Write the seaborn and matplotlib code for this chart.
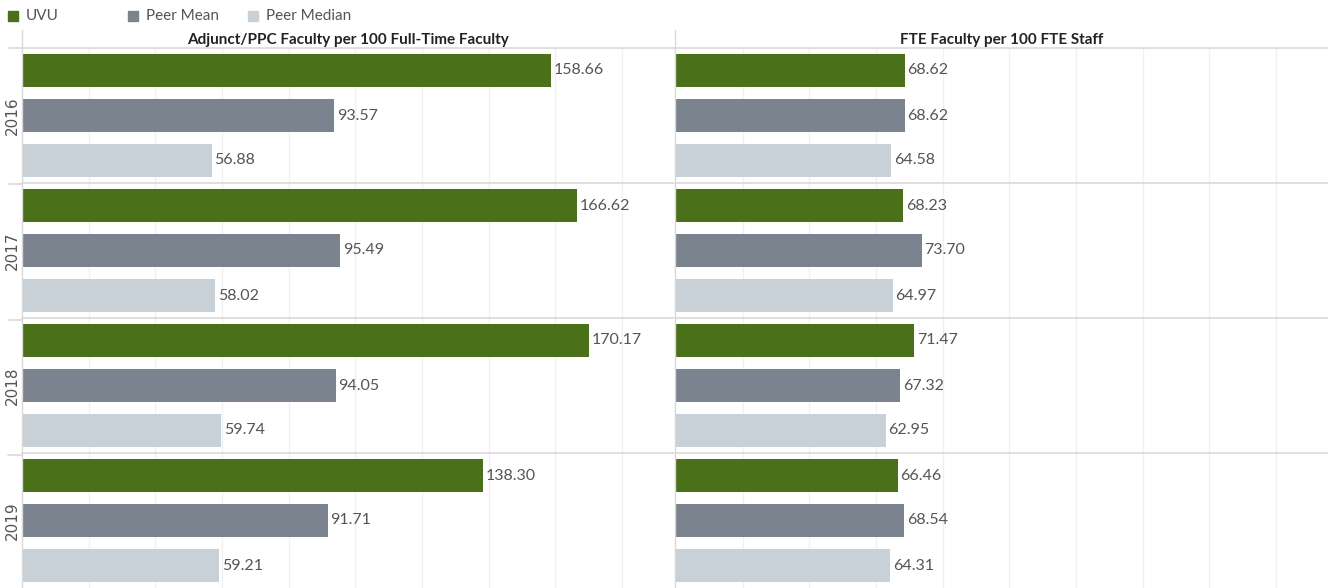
import seaborn as sns
import matplotlib.pyplot as plt
import pandas as pd
from matplotlib.patches import Rectangle
from matplotlib.lines import Line2D

# data
years = ["2016", "2017", "2018", "2019"]
series = ["UVU", "Peer Mean", "Peer Median"]
adjunct_uvu = [158.66, 166.62, 170.17, 138.30]
adjunct_mean = [93.57, 95.49, 94.05, 91.71]
adjunct_median = [56.88, 58.02, 59.74, 59.21]
fte_uvu = [68.62, 68.23, 71.47, 66.46]
fte_mean = [68.62, 73.70, 67.32, 68.54]
fte_median = [64.58, 64.97, 62.95, 64.31]
titles = ["Adjunct/PPC Faculty per 100 Full-Time Faculty", "FTE Faculty per 100 FTE Staff"]

colors = {"UVU": "#4a7119", "Peer Mean": "#7b838e", "Peer Median": "#c8d0d8"}


def make_df(uvu, mean, median):
    rows = []
    for i, y in enumerate(years):
        rows.append((y, "UVU", uvu[i]))
        rows.append((y, "Peer Mean", mean[i]))
        rows.append((y, "Peer Median", median[i]))
    return pd.DataFrame(rows, columns=["Year", "Series", "Value"])


frames = [make_df(adjunct_uvu, adjunct_mean, adjunct_median),
          make_df(fte_uvu, fte_mean, fte_median)]

sns.set_theme(style="white")
plt.rcParams["font.family"] = ["Lato", "DejaVu Sans"]

W, H = 1328, 588
fig = plt.figure(figsize=(W / 100, H / 100), dpi=100)

top_px, bot_px = 48, 588
lefts = [22, 676]
width_px = 652
grid_c = "#f0f0f0"
sep_c = "#d9d9d9"

for k, df in enumerate(frames):
    ax = fig.add_axes([lefts[k] / W, 1 - bot_px / H, width_px / W, (bot_px - top_px) / H])
    sns.barplot(data=df, y="Year", x="Value", hue="Series", hue_order=series,
                palette=colors, orient="h", width=1.0, gap=0.25, ax=ax,
                legend=False, saturation=1, edgecolor="none")
    ax.set_xlim(0, 195.6)
    ax.set_ylim(3.5, -0.5)
    ax.set_xticks(range(20, 200, 20))
    ax.xaxis.grid(True, color=grid_c, lw=1)
    ax.set_axisbelow(True)
    ax.tick_params(axis="x", bottom=False, labelbottom=False)
    ax.set_yticks([])
    ax.set_xlabel("")
    ax.set_ylabel("")
    for sp in ax.spines.values():
        sp.set_visible(False)
    if k == 0:
        for i, yr in enumerate(years):
            ax.text(-10 / width_px, i, yr, transform=ax.get_yaxis_transform(),
                    rotation=90, ha="center", va="center", fontsize=11,
                    color="#555555", family="DejaVu Sans")
    for c in ax.containers:
        ax.bar_label(c, fmt="%.2f", padding=2, fontsize=11.5, color="#555555")
    for yb in [0.5, 1.5, 2.5]:
        ax.axhline(yb, color=sep_c, lw=1.2, clip_on=False)
    cx = (lefts[k] + width_px / 2) / W
    fig.text(cx, 1 - 40 / H, titles[k], ha="center", va="center",
             fontsize=11, fontweight="bold", color="#222222")

# frame lines: header bottom, separators, panel dividers
fig.add_artist(Line2D([8 / W, 1], [1 - 48 / H] * 2, color=sep_c, lw=1.2))
for yb in [184, 320, 455]:
    fig.add_artist(Line2D([8 / W, 22 / W], [1 - yb / H] * 2, color=sep_c, lw=1.2))
fig.add_artist(Line2D([22 / W] * 2, [0, 1 - 30 / H], color=sep_c, lw=1))
fig.add_artist(Line2D([675 / W] * 2, [0, 1 - 30 / H], color=sep_c, lw=1))

# legend
for name, x0 in zip(series, [8, 128, 248]):
    fig.add_artist(Rectangle((x0 / W, 1 - 21 / H), 10 / W, 10 / H,
                             color=colors[name], transform=fig.transFigure))
    fig.text((x0 + 18) / W, 1 - 16 / H, name, ha="left", va="center",
             fontsize=11, color="#555555")

fig.savefig("out.png", dpi=100)
